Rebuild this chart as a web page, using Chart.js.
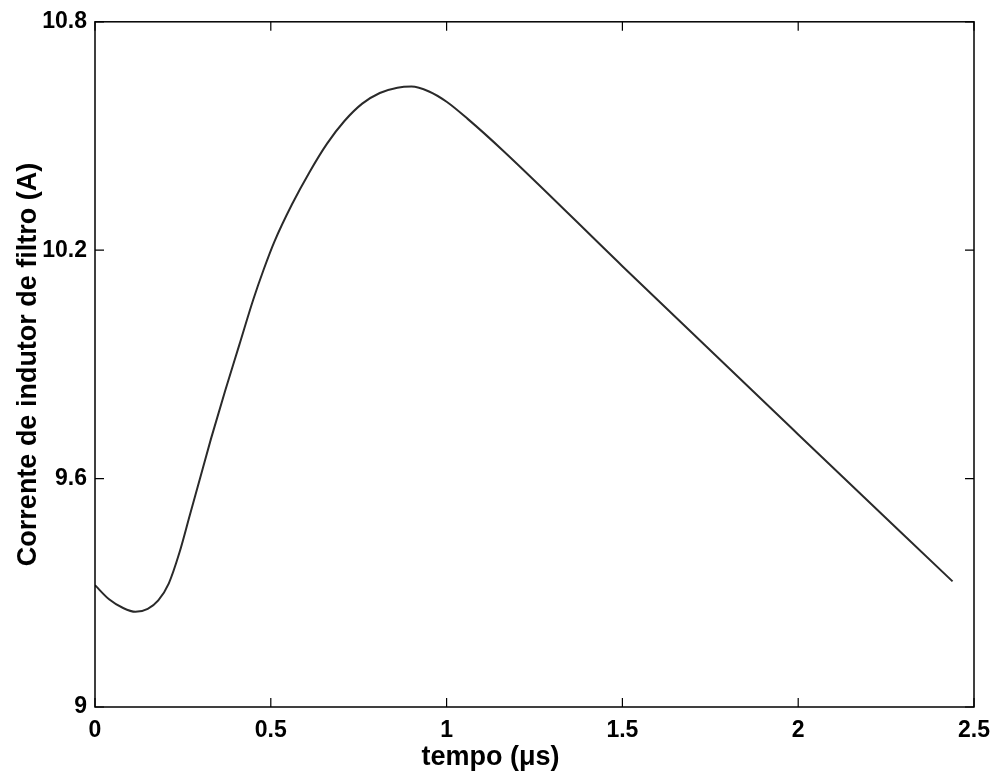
<!DOCTYPE html>
<html>
<head>
<meta charset="utf-8">
<script src="https://cdn.jsdelivr.net/npm/chart.js@4"></script>
<style>
  html, body { margin: 0; padding: 0; background: #fff; }
  #wrap { width: 1000px; height: 776px; }
</style>
</head>
<body>
<div id="wrap"><canvas id="chart" width="1000" height="776"></canvas></div>
<script>
// values
const tempo = [0, 0.04, 0.08, 0.115, 0.15, 0.18, 0.21, 0.24, 0.27, 0.30, 0.33, 0.37, 0.41, 0.45, 0.48, 0.51,
               0.56, 0.61, 0.66, 0.71, 0.76, 0.81, 0.86, 0.90, 0.95, 1.00, 1.06, 1.16,
               1.5, 2.0, 2.439];
const corrente = [9.32, 9.283, 9.26, 9.25, 9.258, 9.28, 9.325, 9.405, 9.505, 9.605, 9.705, 9.83, 9.95, 10.07, 10.15, 10.222,
                  10.32, 10.405, 10.48, 10.54, 10.585, 10.613, 10.627, 10.63, 10.617, 10.59, 10.545, 10.462,
                  10.158, 9.716, 9.33];
const xTicks = [0, 0.5, 1, 1.5, 2, 2.5];
const yTicks = [9, 9.6, 10.2, 10.8];
const xLabel = 'tempo (μs)';
const yLabel = 'Corrente de indutor de filtro (A)';

const fontFamily = "'Liberation Sans', Arial, sans-serif";
const boldFont = (size) => ({ family: fontFamily, size: size, weight: 'bold' });

// MATLAB style box with inward ticks on all four sides, plus the x label
const boxTicks = {
    id: 'boxTicks',
    afterDraw(chart) {
        const { ctx, chartArea: a, scales } = chart;
        const len = 9;
        ctx.save();
        ctx.strokeStyle = '#000';
        ctx.lineWidth = 1.5;
        ctx.strokeRect(a.left, a.top, a.right - a.left, a.bottom - a.top);
        ctx.lineWidth = 1.2;
        ctx.beginPath();
        scales.x.ticks.forEach(t => {
            const px = scales.x.getPixelForValue(t.value);
            ctx.moveTo(px, a.bottom); ctx.lineTo(px, a.bottom - len);
            ctx.moveTo(px, a.top); ctx.lineTo(px, a.top + len);
        });
        scales.y.ticks.forEach(t => {
            const py = scales.y.getPixelForValue(t.value);
            ctx.moveTo(a.left, py); ctx.lineTo(a.left + len, py);
            ctx.moveTo(a.right, py); ctx.lineTo(a.right - len, py);
        });
        ctx.stroke();

        // x label sits a little left of the axis centre in the original
        ctx.fillStyle = '#000';
        ctx.font = 'bold 27px ' + fontFamily;
        ctx.textAlign = 'center';
        ctx.textBaseline = 'middle';
        ctx.fillText(xLabel, (a.left + a.right) / 2 - 44, 758);
        ctx.restore();
    }
};

const tickText = v => String(+v.toFixed(1));

new Chart(document.getElementById('chart'), {
    type: 'scatter',
    data: {
        datasets: [{
            data: tempo.map((t, i) => ({ x: t, y: corrente[i] })),
            showLine: true,
            borderColor: '#2a2a2a',
            borderWidth: 2,
            pointRadius: 0,
            cubicInterpolationMode: 'monotone'
        }]
    },
    options: {
        responsive: false,
        animation: false,
        layout: { padding: { left: 0, top: 17, right: 26, bottom: 0 } },
        plugins: { legend: { display: false }, tooltip: { enabled: false } },
        scales: {
            x: {
                type: 'linear',
                min: 0, max: 2.5,
                afterBuildTicks: s => { s.ticks = xTicks.map(v => ({ value: v })); },
                afterFit: s => { s.height = 69; },
                grid: { display: false, drawTicks: false },
                border: { display: false },
                ticks: { color: '#000', font: boldFont(23), padding: 10, maxRotation: 0, callback: tickText }
            },
            y: {
                type: 'linear',
                min: 9, max: 10.8,
                afterBuildTicks: s => { s.ticks = yTicks.map(v => ({ value: v })); },
                afterFit: s => { s.width = 95; },
                grid: { display: false, drawTicks: false },
                border: { display: false },
                ticks: { color: '#000', font: boldFont(23), padding: 8, callback: tickText },
                title: { display: true, text: yLabel, color: '#000', font: boldFont(27), padding: { top: 12 } }
            }
        }
    },
    plugins: [boxTicks]
});
</script>
</body>
</html>
